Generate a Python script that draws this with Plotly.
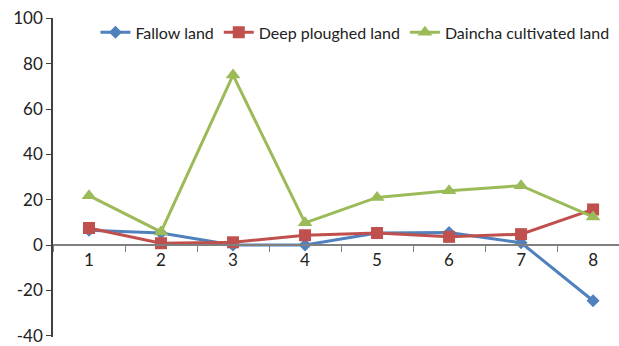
import plotly.graph_objects as go

# Sampling positions along the x-axis
positions = ["1", "2", "3", "4", "5", "6", "7", "8"]

# Measured values per land-management treatment
fallow_land = [6.5, 5.3, 0, 0, 5.3, 5.5, 1, -24.6]
deep_ploughed_land = [7.5, 0.8, 1.2, 4.3, 5.3, 3.6, 4.8, 15.7]
daincha_cultivated_land = [21.8, 5.8, 75, 9.8, 21.0, 24.0, 26.2, 12.4]

y_tick_values = [-40, -20, 0, 20, 40, 60, 80, 100]
y_tick_labels = [str(v) for v in y_tick_values]

series = [
    ("Fallow land", fallow_land, "#4F81BD", "diamond", 10),
    ("Deep ploughed land", deep_ploughed_land, "#C0504D", "square", 12),
    ("Daincha cultivated land", daincha_cultivated_land, "#9BBB59", "triangle-up", 13),
]

fig = go.Figure()
for name, values, color, symbol, size in series:
    fig.add_trace(go.Scatter(
        x=positions, y=values, name=name, mode="lines+markers",
        line=dict(color=color, width=3),
        marker=dict(symbol=symbol, size=size, color=color),
    ))

y_min, y_max = -40.6, 100.2
zero_frac = (0 - y_min) / (y_max - y_min)

fig.update_layout(
    width=619, height=346,
    margin=dict(l=53, r=0, t=18, b=7),
    paper_bgcolor="white", plot_bgcolor="white",
    font=dict(family="Lato", size=17, color="#222222"),
    showlegend=True,
    legend=dict(
        orientation="h", x=0.075, xanchor="left", y=0.955, yanchor="middle",
        font=dict(size=16), itemwidth=30, bgcolor="rgba(0,0,0,0)",
        traceorder="normal",
    ),
    xaxis=dict(
        type="category", range=[-0.5, 7.36],
        anchor="free", position=zero_frac,
        showline=True, linecolor="#808080", linewidth=1.5,
        ticks="outside", tickson="boundaries", ticklen=6, tickcolor="#808080",
        showgrid=False, zeroline=False,
    ),
    yaxis=dict(
        range=[y_min, y_max], tickvals=y_tick_values, ticktext=y_tick_labels,
        showline=True, linecolor="#404040", linewidth=1.5,
        ticks="outside", ticklen=5, tickcolor="#404040",
        ticklabeloverflow="allow",
        showgrid=False, zeroline=False,
    ),
)

fig.write_html("out.html")
